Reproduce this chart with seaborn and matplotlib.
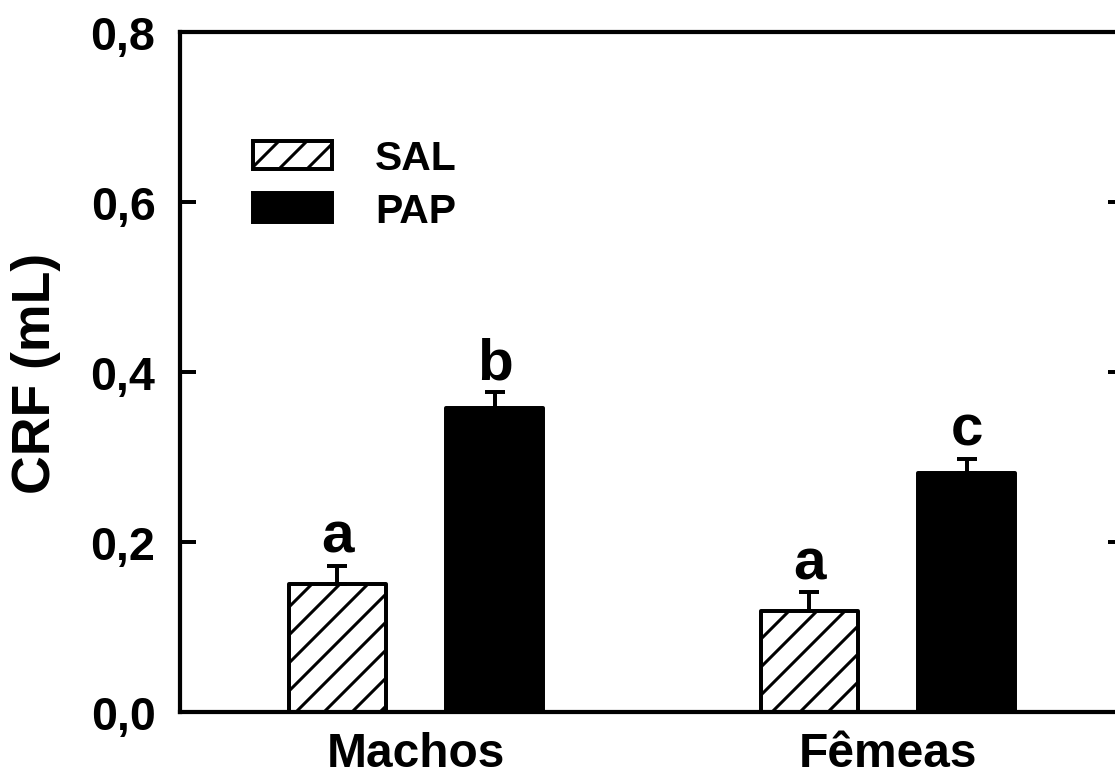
import numpy as np
import pandas as pd
import matplotlib
matplotlib.use("Agg")
import matplotlib.pyplot as plt
import seaborn as sns

# ---- data ----
sexos = ["Machos", "Fêmeas"]
grupos = ["SAL", "PAP"]
sal_mean = [0.151, 0.119]
sal_err = [0.021, 0.022]
pap_mean = [0.358, 0.281]
pap_err = [0.018, 0.017]
sal_letters = ["a", "a"]
pap_letters = ["b", "c"]
yticks = [0.0, 0.2, 0.4, 0.6, 0.8]
ytick_labels = ["0,0", "0,2", "0,4", "0,6", "0,8"]

df = pd.DataFrame({
    "sexo": sexos * 2,
    "grupo": ["SAL"] * 2 + ["PAP"] * 2,
    "crf": sal_mean + pap_mean,
})

sns.set_style("ticks")
plt.rcParams["font.family"] = ["Liberation Sans", "DejaVu Sans"]
plt.rcParams["font.weight"] = "bold"
plt.rcParams["hatch.linewidth"] = 1.3
plt.rcParams["hatch.color"] = "black"
plt.rcParams["text.color"] = "black"
plt.rcParams["axes.labelcolor"] = "black"
plt.rcParams["xtick.color"] = "black"
plt.rcParams["ytick.color"] = "black"

DPI = 168
fig = plt.figure(figsize=(1115 / DPI, 774 / DPI), dpi=DPI)
ax = fig.add_axes([180 / 1115, 1 - 713 / 774, (1124 - 180) / 1115, (713 - 33) / 774])

sns.barplot(data=df, x="sexo", y="crf", hue="grupo", order=sexos, hue_order=grupos,
            palette={"SAL": "white", "PAP": "black"}, width=0.666, gap=0.385,
            errorbar=None, edgecolor="black", linewidth=1.7, legend=False, ax=ax,
            saturation=1)

for p in ax.containers[0]:
    p.set_hatch("//")
for cont in ax.containers:
    for p in cont:
        p.set_joinstyle("round")

# error bars (upper only) & letters
for cont, means, errs, letters in [(ax.containers[0], sal_mean, sal_err, sal_letters),
                                    (ax.containers[1], pap_mean, pap_err, pap_letters)]:
    xs = [p.get_x() + p.get_width() / 2 for p in cont]
    ax.errorbar(xs, means, yerr=[np.zeros(len(errs)), errs], fmt="none", ecolor="black",
                elinewidth=1.7, capsize=4.3, capthick=1.7, zorder=1)
    for x, m, e, l in zip(xs, means, errs, letters):
        ax.annotate(l, (x, m + e), xytext=(0, 6), textcoords="offset points",
                    ha="center", va="baseline", fontsize=25, fontweight="bold",
                    color="black")

ax.set_xlim(-0.5, 1.5)
ax.set_ylim(0, 0.8)
ax.set_yticks(yticks)
ax.set_yticklabels(ytick_labels)
ax.set_xlabel("")
ax.set_ylabel("CRF (mL)", fontsize=23, fontweight="bold", labelpad=12.5, color="black")

for s in ["left", "top", "bottom", "right"]:
    ax.spines[s].set_visible(True)
    ax.spines[s].set_linewidth(1.8)
    ax.spines[s].set_color("black")

ax.tick_params(axis="y", which="both", direction="in", length=6.9, width=1.7,
               labelsize=20, pad=10.5, right=True, left=True, colors="black")
ax.tick_params(axis="x", length=0, labelsize=20.5, pad=8, colors="black")
for lab in ax.get_xticklabels() + ax.get_yticklabels():
    lab.set_fontweight("bold")

leg = ax.legend(handles=[ax.containers[0], ax.containers[1]], labels=grupos,
                loc="upper left", bbox_to_anchor=(0.077, 0.842), frameon=False,
                fontsize=17.5, handlelength=1.94, handleheight=0.69,
                handletextpad=1.05, labelspacing=0.35, borderpad=0, borderaxespad=0)
for t in leg.get_texts():
    t.set_fontweight("bold")
    t.set_color("black")

fig.savefig("out.png", dpi=DPI)
